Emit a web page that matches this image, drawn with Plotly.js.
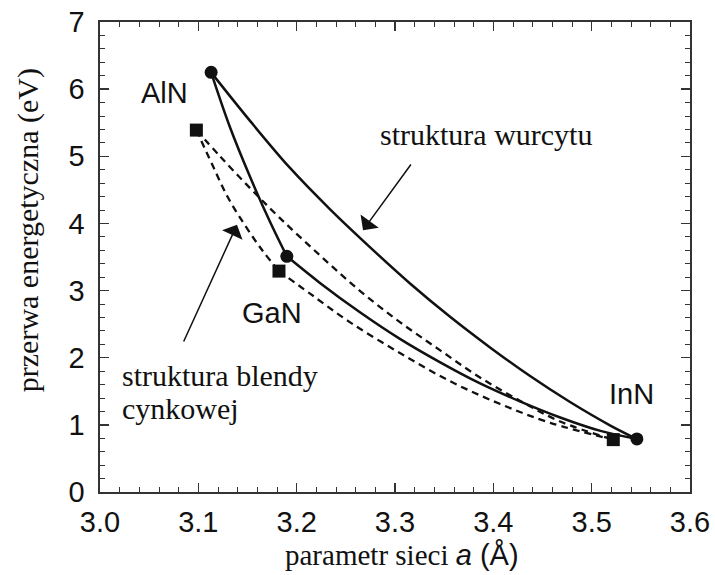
<!DOCTYPE html>
<html>
<head>
<meta charset="utf-8">
<script src="https://cdn.plot.ly/plotly-3.0.1.min.js"></script>
<style>
  html, body { margin: 0; padding: 0; background: #fff; }
  #chart { width: 715px; height: 575px; }
</style>
</head>
<body>
<div id="chart"></div>
<script>
// Binary nitrides: lattice constant a (Å) and band gap (eV)
const compounds = ['AlN', 'GaN', 'InN'];
const wzA = [3.113, 3.190, 3.546];   // wurtzite
const wzE = [6.25, 3.51, 0.79];
const zbA = [3.098, 3.182, 3.522];   // zinc blende
const zbE = [5.39, 3.29, 0.78];

// Wurtzite alloy curves (solid)
const wzAlGaA = [3.113, 3.132, 3.153, 3.173, 3.190];
const wzAlGaE = [6.25, 5.44, 4.68, 4.02, 3.51];
const wzGaInA = [3.190, 3.224, 3.264, 3.305, 3.346, 3.386, 3.427, 3.468, 3.509, 3.546];
const wzGaInE = [3.51, 3.11, 2.68, 2.28, 1.93, 1.62, 1.35, 1.11, 0.91, 0.79];
const wzAlInA = [3.113, 3.153, 3.193, 3.234, 3.275, 3.315, 3.356, 3.397, 3.437, 3.478, 3.519, 3.546];
const wzAlInE = [6.25, 5.52, 4.83, 4.21, 3.64, 3.11, 2.61, 2.15, 1.73, 1.34, 0.99, 0.79];

// Zinc-blende alloy curves (dashed)
const zbAlGaA = [3.098, 3.114, 3.130, 3.148, 3.165, 3.182];
const zbAlGaE = [5.39, 4.88, 4.39, 3.96, 3.60, 3.29];
const zbGaInA = [3.182, 3.214, 3.254, 3.305, 3.356, 3.407, 3.458, 3.522];
const zbGaInE = [3.29, 2.95, 2.53, 2.07, 1.65, 1.31, 1.03, 0.78];
const zbAlInA = [3.098, 3.122, 3.153, 3.183, 3.224, 3.264, 3.305, 3.346, 3.386, 3.427, 3.468, 3.522];
const zbAlInE = [5.39, 5.00, 4.52, 4.08, 3.52, 3.00, 2.53, 2.11, 1.71, 1.36, 1.05, 0.78];

// Labels
const xTitle = 'parametr sieci <span style="font-family:Liberation Sans"><i>a</i> (Å)</span>';
const yTitle = 'przerwa energetyczna (eV)';
const wzNote = 'struktura wurcytu';
const zbNote = ['struktura blendy', 'cynkowej'];

const ink = '#111111';
const frame = '#333333';
const sans = 'Liberation Sans, Arial, sans-serif';
const serif = 'Liberation Serif, Times New Roman, serif';

function curve(x, y, dashed) {
  return {
    x: x, y: y, type: 'scatter', mode: 'lines',
    line: { color: ink, width: dashed ? 2.3 : 2.5, dash: dashed ? '7px,5px' : 'solid',
            shape: 'spline', smoothing: 1 },
    hoverinfo: 'skip'
  };
}

const traces = [
  curve(zbAlGaA, zbAlGaE, true),
  curve(zbGaInA, zbGaInE, true),
  curve(zbAlInA, zbAlInE, true),
  curve(wzAlGaA, wzAlGaE, false),
  curve(wzGaInA, wzGaInE, false),
  curve(wzAlInA, wzAlInE, false),
  { x: wzA, y: wzE, type: 'scatter', mode: 'markers', text: compounds,
    marker: { symbol: 'circle', size: 13, color: ink } },
  { x: zbA, y: zbE, type: 'scatter', mode: 'markers', text: compounds,
    marker: { symbol: 'square', size: 13, color: ink } }
];

function axis(extra) {
  return Object.assign({
    showline: true, linecolor: frame, linewidth: 1.6, mirror: 'ticks',
    ticks: 'inside', ticklen: 9, tickwidth: 1.3, tickcolor: frame,
    showgrid: false, zeroline: false,
    tickfont: { family: sans, size: 29, color: ink }
  }, extra);
}

const layout = {
  width: 715, height: 575,
  margin: { l: 100, r: 25, t: 22, b: 83, pad: 0 },
  paper_bgcolor: '#ffffff', plot_bgcolor: '#ffffff',
  showlegend: false,
  xaxis: axis({ range: [3.0, 3.6], tick0: 3.0, dtick: 0.1, tickformat: '.1f',
    ticklabelstandoff: 4,
    minor: { dtick: 0.02, ticks: 'inside', ticklen: 5, tickwidth: 1, tickcolor: frame } }),
  yaxis: axis({ range: [0, 7], tick0: 0, dtick: 1,
    ticklabelstandoff: 8,
    minor: { dtick: 0.2, ticks: 'inside', ticklen: 5, tickwidth: 1, tickcolor: frame } }),
  annotations: [
    { text: compounds[0], x: 3.066, y: 5.95, xref: 'x', yref: 'y', showarrow: false,
      font: { family: sans, size: 29, color: ink } },
    { text: compounds[1], x: 3.175, y: 2.67, xref: 'x', yref: 'y', showarrow: false,
      font: { family: sans, size: 29, color: ink } },
    { text: compounds[2], x: 3.541, y: 1.46, xref: 'x', yref: 'y', showarrow: false,
      font: { family: sans, size: 29, color: ink } },
    { text: wzNote, x: 3.3926, y: 5.33, xref: 'x', yref: 'y', showarrow: false,
      font: { family: serif, size: 30, color: ink } },
    { text: zbNote[0], x: 3.0203, y: 1.74, xref: 'x', yref: 'y', showarrow: false,
      xanchor: 'left', font: { family: serif, size: 30, color: ink } },
    { text: zbNote[1], x: 3.0203, y: 1.25, xref: 'x', yref: 'y', showarrow: false,
      xanchor: 'left', font: { family: serif, size: 30, color: ink } },
    // arrows pointing at the two families of curves
    { text: '', x: 3.2675, y: 3.90, ax: 3.3173, ay: 4.90, xref: 'x', yref: 'y',
      axref: 'x', ayref: 'y', showarrow: true, arrowhead: 1, arrowsize: 2.5,
      arrowwidth: 1.5, arrowcolor: ink, standoff: 0 },
    { text: '', x: 3.1393, y: 3.98, ax: 3.0844, ay: 2.22, xref: 'x', yref: 'y',
      axref: 'x', ayref: 'y', showarrow: true, arrowhead: 1, arrowsize: 2.5,
      arrowwidth: 1.5, arrowcolor: ink, standoff: 0 },
    // axis titles
    { text: xTitle, x: 0.512, y: -0.134, xref: 'paper', yref: 'paper', showarrow: false,
      xanchor: 'center', yanchor: 'middle',
      font: { family: serif, size: 29, color: ink } },
    { text: yTitle, x: -0.122, y: 0.557, xref: 'paper', yref: 'paper', showarrow: false,
      xanchor: 'center', yanchor: 'middle', textangle: -90,
      font: { family: serif, size: 30, color: ink } }
  ]
};

Plotly.newPlot('chart', traces, layout, { staticPlot: true, displayModeBar: false });
</script>
</body>
</html>
